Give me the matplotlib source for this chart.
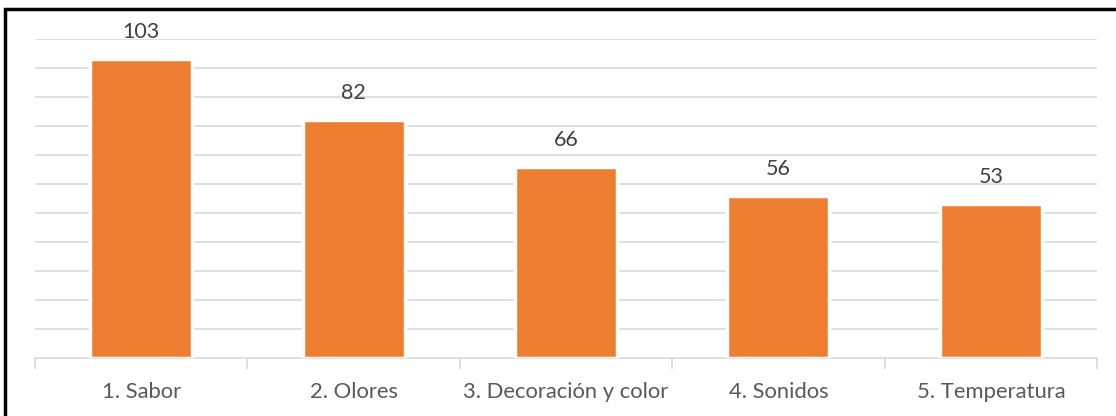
import matplotlib
matplotlib.use("Agg")
import matplotlib.pyplot as plt
from matplotlib.patches import Rectangle

# data
categories = ["1. Sabor", "2. Olores", "3. Decoración y color", "4. Sonidos", "5. Temperatura"]
values = [103, 82, 66, 56, 53]

ORANGE = "#ED7D31"
GRID = "#D9D9D9"

plt.rcParams["font.family"] = ["Lato", "DejaVu Sans"]

fig = plt.figure(figsize=(11.16, 4.16), dpi=100)
ax = fig.add_axes([0.0314, 0.1394, 0.9516, 0.7669])

xs = list(range(len(categories)))
ax.bar(xs, values, width=0.48, color=ORANGE, edgecolor="white", linewidth=2.5, zorder=3)
for x, v in zip(xs, values):
    ax.annotate(str(v), (x, v), xytext=(0, 27), textcoords="offset pixels",
                ha="center", va="center", fontsize=15.5, color="#404040")

ax.set_xlim(-0.5, len(categories) - 0.5)
ax.set_ylim(0, 110)
ax.set_yticks(range(10, 111, 10))
ax.yaxis.grid(True, color=GRID, linewidth=1.2, zorder=0)
ax.tick_params(axis="y", left=False, labelleft=False)

ax.set_xticks(xs)
ax.set_xticklabels(categories, fontsize=15.8, color="#595959")
ax.tick_params(axis="x", length=0, pad=17)
# category boundary ticks
ax.set_xticks([x - 0.5 for x in range(len(categories) + 1)], minor=True)
ax.tick_params(axis="x", which="minor", length=8, color=GRID, width=1.2)

for s in ["top", "right", "left"]:
    ax.spines[s].set_visible(False)
ax.spines["bottom"].set_color(GRID)
ax.spines["bottom"].set_linewidth(1.2)

# black frame, only top and left edges visible in the crop
fig.patches.append(Rectangle((5 / 1116, -0.1), 1.2, 1.1 - 9 / 416, transform=fig.transFigure,
                             fill=False, edgecolor="black", linewidth=2.5))

fig.savefig("out.png", dpi=100)
